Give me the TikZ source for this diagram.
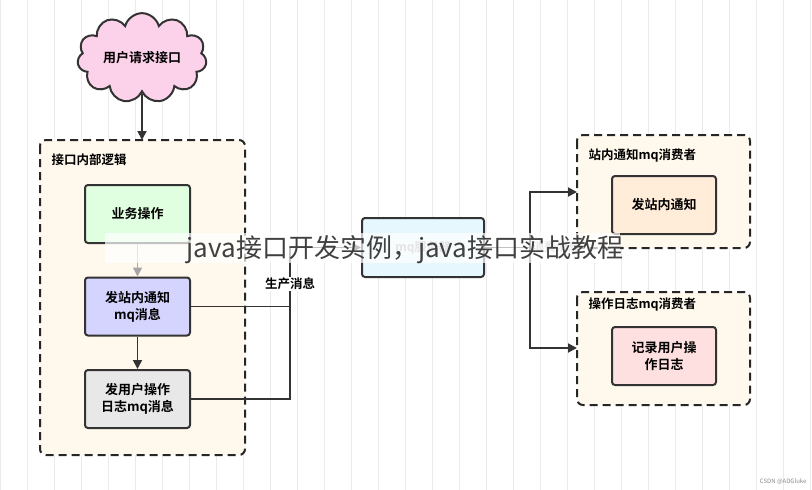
\documentclass[tikz,border=0pt]{standalone}
\usepackage{fontspec}
\setmainfont{Noto Sans CJK SC}[BoldFont=* Bold]
\newfontfamily\wmfont{Noto Sans CJK SC}
\usetikzlibrary{shapes.symbols,arrows.meta}
\begin{document}
\begin{tikzpicture}[x=1pt,y=-1pt,
  box/.style={draw=black!80,line width=2pt,rounded corners=3pt,align=center,font=\bfseries\fontsize{13}{17}\selectfont},
  cont/.style={draw=black!85,line width=2pt,dash pattern=on 8pt off 5pt,rounded corners=6pt,fill=yellow!30!orange!6},
  ttl/.style={font=\bfseries\fontsize{12.5}{15}\selectfont,anchor=west},
  conn/.style={line width=1.8pt,draw=black!80},
  arr/.style={conn,-{Triangle[length=9pt,width=9pt]}}]
\useasboundingbox (0,0) rectangle (812,490);
\fill[white] (0,0) rectangle (812,490);
\draw[black!8,line width=0.6pt] (0,0) grid[step=27] (812,490);
\node[cloud,cloud puffs=11,aspect=1.8,draw=black!80,line width=2pt,fill=magenta!18,minimum width=128pt,minimum height=74pt,font=\bfseries\fontsize{13}{17}\selectfont] (req) at (142,58) {用户请求接口};
\path[cont] (40,140) rectangle (245,455);
\coordinate (ctop) at (142,140);
\node[ttl] (t1) at (48,160) {接口内部逻辑};
\node[box,fill=green!12,minimum width=105pt,minimum height=58pt] (biz) at (137.5,214) {业务操作};
\node[box,fill=blue!17,minimum width=105pt,minimum height=58pt] (m1) at (137.5,306.5) {发站内通知\\mq消息};
\node[box,fill=black!9,minimum width=105pt,minimum height=58pt] (m2) at (137.5,399) {发用户操作\\日志mq消息};
\draw[arr] (req.south) -- (ctop);
\draw[arr,draw=black!35] (biz) -- (m1);
\draw[arr] (m1) -- (m2);
\node[box,fill=cyan!10,minimum width=122pt,minimum height=59pt,font=\bfseries\fontsize{12}{15}\selectfont,text=black!35] (mq) at (423,247.5) {mq服务器};
\coordinate (j1) at (290,306.5);
\coordinate (j2) at (290,399);
\coordinate (j3) at (290,247.5);
\draw[conn] (m1.east) -- (j1);
\draw[conn] (m2.east) -- (j2) -- (j3);
\draw[arr] (j3) -- (mq.west);
\node[font=\bfseries\fontsize{12.5}{15}\selectfont,fill=white,inner sep=1pt] (lp) at (290,284) {生产消息};
\path[cont] (577,135) rectangle (750,248);
\node[ttl] (t2) at (585,156) {站内通知mq消费者};
\node[box,fill=orange!15,minimum width=104pt,minimum height=58pt] (c1) at (664,205) {发站内通知};
\path[cont] (577,292) rectangle (750,405);
\node[ttl] (t3) at (585,305) {操作日志mq消费者};
\node[box,fill=red!12,minimum width=104pt,minimum height=58pt] (c2) at (664,356) {记录用户操\\作日志};
\coordinate (k0) at (530,247.5);
\coordinate (k1) at (530,192);
\coordinate (k2) at (530,348);
\coordinate (e1) at (577,192);
\coordinate (e2) at (577,348);
\draw[conn] (mq.east) -- (k0);
\draw[arr] (k0) -- (k1) -- (e1);
\draw[arr] (k0) -- (k2) -- (e2);
\node[font=\bfseries\fontsize{12}{15}\selectfont,text=black!30] (lc) at (556,247) {消费消息};
\fill[white,opacity=0.7] (105,233) rectangle (620,263);
\node[font=\wmfont\fontsize{26}{30}\selectfont,text=black!75] (wm) at (405,250) {java接口开发实例，java接口实战教程};
\node[font=\fontsize{6}{7}\selectfont,text=black!45,anchor=south east] (cs) at (810,488) {CSDN @ADGluke};
\end{tikzpicture}
\end{document}
